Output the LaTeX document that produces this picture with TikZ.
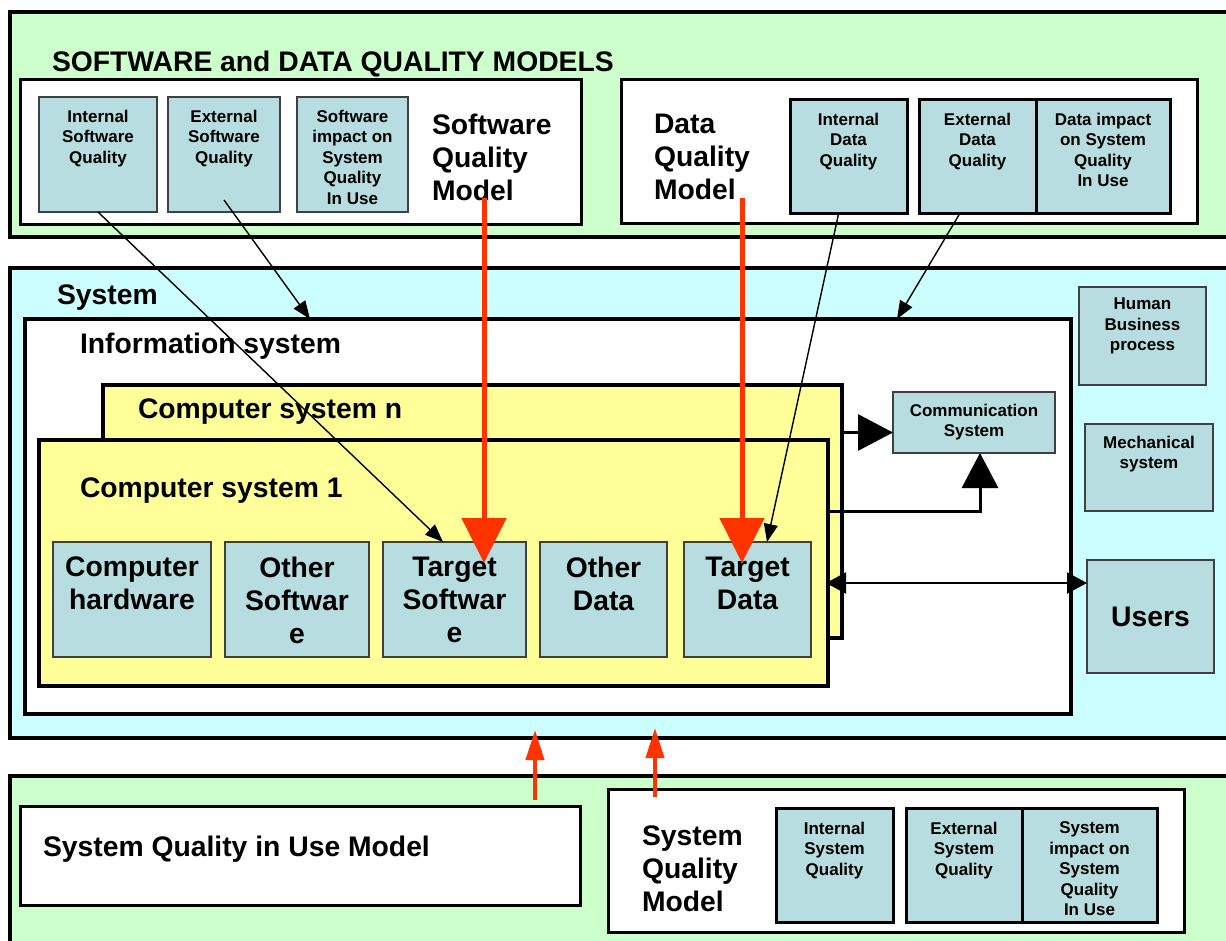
\documentclass[tikz,border=0pt]{standalone}
\usepackage{fontspec}
\setmainfont{Liberation Sans}
\usetikzlibrary{arrows.meta}
\definecolor{mintgreen}{RGB}{204,255,204}
\definecolor{palecyan}{RGB}{204,255,255}
\definecolor{paleyellow}{RGB}{255,255,153}
\definecolor{qualblue}{RGB}{183,221,224}
\definecolor{vermilion}{RGB}{255,51,0}
\newcommand{\bigtext}{\fontsize{28.3}{33}\selectfont\bfseries}
\newcommand{\smalltext}{\fontsize{17}{20.5}\selectfont\bfseries}

\begin{document}
\begin{tikzpicture}[x=1pt,y=-1pt,
	every node/.style={inner sep=0pt,outer sep=0pt},
	panel/.style={draw,line width=4pt,anchor=north west},
	modelbox/.style={draw,fill=white,line width=3pt,anchor=north west},
	qualbox/.style={draw=black!75,fill=qualblue,line width=1.5pt,anchor=north west},
	datbox/.style={draw,fill=qualblue,line width=3pt,anchor=north west},
	csbox/.style={draw,fill=paleyellow,line width=4pt,anchor=north west},
	heading/.style={font=\bigtext,anchor=base west},
	bigtxt/.style={font=\bigtext,align=center},
	smalltxt/.style={font=\smalltext,align=center},
	feed/.style={line width=1.4pt,-{Triangle[width=14pt,length=18pt]}},
	link/.style={line width=3pt,-{Triangle[width=36pt,length=35pt]}},
	duplex/.style={line width=2pt,{Triangle[width=21pt,length=20pt]}-{Triangle[width=21pt,length=20pt]}},
	target/.style={vermilion,line width=5pt,-{Triangle[width=44pt,length=45pt]}},
	lift/.style={vermilion,line width=4pt,-{Triangle[width=18pt,length=30pt]}}]
	\useasboundingbox (0,0) rectangle (1226,941);

	%PANELS
	\node[panel,fill=mintgreen,minimum width=1225pt,minimum height=225pt] (swpanel) at (10,12) {};
	\node[panel,fill=palecyan,minimum width=1225pt,minimum height=470pt] (syspanel) at (10,268) {};
	\node[panel,fill=mintgreen,minimum width=1225pt,minimum height=200pt] (qpanel) at (10,776) {};
	\node[heading] (swtitle) at (52,72) {SOFTWARE and DATA QUALITY MODELS};

	%SOFTWARE QUALITY MODEL
	\node[modelbox,minimum width=561pt,minimum height=145pt] (swmodel) at (20,80) {};
	\node[qualbox,minimum width=118pt,minimum height=115pt,
		label={[smalltxt,anchor=north,yshift=-13pt]north:Internal\\Software\\Quality}] (isw) at (39,97) {};
	\node[qualbox,minimum width=112pt,minimum height=115pt,
		label={[smalltxt,anchor=north,yshift=-13pt]north:External\\Software\\Quality}] (esw) at (168,97) {};
	\node[qualbox,minimum width=111pt,minimum height=115pt,
		label={[smalltxt,anchor=north,yshift=-13pt]north:Software\\impact on\\System\\Quality\\In Use}] (usw) at (297,97) {};
	\node[bigtxt,align=left,anchor=north west] (swname) at (432,114) {Software\\Quality\\Model};

	%DATA QUALITY MODEL
	\node[modelbox,minimum width=576pt,minimum height=144pt] (dmodel) at (621,80) {};
	\node[bigtxt,align=left,anchor=north west] (dname) at (654,114) {Data\\Quality\\Model};
	\node[datbox,minimum width=117pt,minimum height=114pt,
		label={[smalltxt,anchor=north,yshift=-13pt]north:Internal\\Data\\Quality}] (idq) at (790,100) {};
	\node[datbox,minimum width=117pt,minimum height=114pt,
		label={[smalltxt,anchor=north,yshift=-13pt]north:External\\Data\\Quality}] (edq) at (919,100) {};
	\node[datbox,minimum width=134pt,minimum height=114pt,
		label={[smalltxt,anchor=north,yshift=-13pt]north:Data impact\\on System\\Quality\\In Use}] (udq) at (1036,100) {};

	%SYSTEM
	\node[heading] (systitle) at (57,305) {System};
	\node[panel,fill=white,minimum width=1046pt,minimum height=395pt] (infosys) at (25,319) {};
	\node[heading] (infotitle) at (80,353) {Information system};
	\node[csbox,minimum width=739pt,minimum height=253pt] (csn) at (103,385) {};
	\node[heading] (csntitle) at (138,418) {Computer system n};
	\node[csbox,minimum width=789pt,minimum height=246pt] (cs1) at (39,440) {};
	\node[heading] (cs1title) at (80,497) {Computer system 1};
	\node[qualbox,minimum width=158pt,minimum height=115pt,
		label={[bigtxt,anchor=north,yshift=-15pt]north:Computer\\hardware}] (hw) at (53,542) {};
	\node[qualbox,minimum width=144pt,minimum height=115pt,
		label={[bigtxt,anchor=north,yshift=-15pt]north:Other\\Softwar\\e}] (osw) at (225,542) {};
	\node[qualbox,minimum width=143pt,minimum height=115pt,
		label={[bigtxt,anchor=north,yshift=-15pt]north:Target\\Softwar\\e}] (tsw) at (383,542) {};
	\node[qualbox,minimum width=127pt,minimum height=115pt,
		label={[bigtxt,anchor=north,yshift=-15pt]north:Other\\Data}] (odat) at (540,542) {};
	\node[qualbox,minimum width=127pt,minimum height=115pt,
		label={[bigtxt,anchor=north,yshift=-15pt]north:Target\\Data}] (tdat) at (684,542) {};
	\node[qualbox,minimum width=162pt,minimum height=61pt,
		label={[smalltxt,anchor=north,yshift=-12pt]north:Communication\\System}] (comm) at (893,392) {};
	\node[qualbox,minimum width=127pt,minimum height=98pt,
		label={[smalltxt,anchor=north,yshift=-11pt]north:Human\\Business\\process}] (hbp) at (1079,287) {};
	\node[qualbox,minimum width=128pt,minimum height=87pt,
		label={[smalltxt,anchor=north,yshift=-12pt]north:Mechanical\\system}] (mech) at (1085,424) {};
	\node[qualbox,bigtxt,minimum width=127pt,minimum height=113pt] (users) at (1087,560) {Users};

	%SYSTEM QUALITY MODELS
	\node[modelbox,minimum width=560pt,minimum height=99pt] (qiu) at (20,806) {};
	\node[heading] (qiutitle) at (43,856) {System Quality in Use Model};
	\node[modelbox,minimum width=576pt,minimum height=143pt] (sqm) at (608,789) {};
	\node[bigtxt,align=left,anchor=north west] (sqmname) at (642,826) {System\\Quality\\Model};
	\node[datbox,minimum width=117pt,minimum height=114pt,
		label={[smalltxt,anchor=north,yshift=-14pt]north:Internal\\System\\Quality}] (isq) at (776,808) {};
	\node[datbox,minimum width=116pt,minimum height=114pt,
		label={[smalltxt,anchor=north,yshift=-14pt]north:External\\System\\Quality}] (esq) at (906,808) {};
	\node[datbox,minimum width=135pt,minimum height=114pt,
		label={[smalltxt,anchor=north,yshift=-14pt]north:System\\impact on\\System\\Quality\\In Use}] (usq) at (1022,808) {};

	%THIN ARCS
	\draw[feed] (isw.south) -- ([xshift=60pt]tsw.north west);
	\draw[feed] ([yshift=12pt]esw.south) -- ([xshift=285pt]infosys.north west);
	\draw[feed] ([xshift=-10pt]idq.south) -- ([xshift=83pt]tdat.north west);
	\draw[feed] ([xshift=-18pt]edq.south) -- ([xshift=-174pt]infosys.north east);

	%LINKS
	\draw[link] ([yshift=-10pt]csn.east |- comm.west) -- ([yshift=-10pt]comm.west);
	\draw[link] (cs1.east |- 0,511) -| ([xshift=6pt]comm.south);
	\draw[duplex] ([xshift=-2pt]cs1.east |- 0,583) -- (users.west |- 0,583);

	%RED ARCS
	\coordinate (swfoot) at (484,198);
	\coordinate (dfoot) at (742,198);
	\coordinate (qiufoot) at (535,800);
	\coordinate (sqmfoot) at (655,797);
	\draw[target] (swfoot) -- ([yshift=-21pt]swfoot |- tsw.north); %software model -- target software
	\draw[target] (dfoot) -- ([yshift=-21pt]dfoot |- tdat.north); %data model -- target data
	\draw[lift] (qiufoot) -- ([yshift=8pt]qiufoot |- syspanel.south);
	\draw[lift] (sqmfoot) -- ([yshift=10pt]sqmfoot |- syspanel.south);
\end{tikzpicture}
\end{document}
